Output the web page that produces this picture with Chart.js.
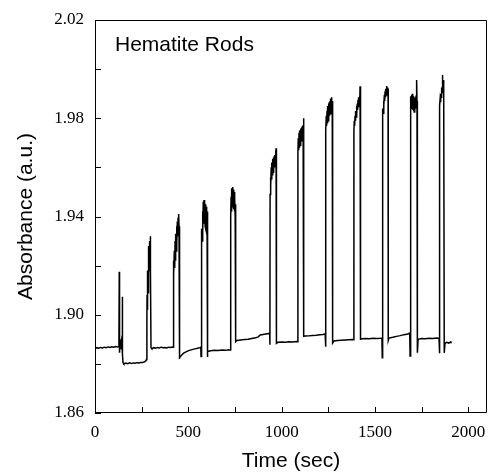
<!DOCTYPE html>
<html>
<head>
<meta charset="utf-8">
<script src="https://cdn.jsdelivr.net/npm/chart.js@4"></script>
<style>
  body { margin: 0; background: #fff; }
  canvas { display: block; }
</style>
</head>
<body>
<canvas id="chart" width="488" height="474"></canvas>
<script>
// time axis (sec) and absorbance (a.u.), one line per segment of the trace
const timeSec = [
  0, 10, 20, 30, 40, 50, 60, 70, 80, 90, 100, 110, 120, 128,
  130, 131, 132, 134, 138, 142, 145, 146, 148, 150,
  155, 165, 175, 185, 195, 205, 215, 225, 235, 245, 255, 265, 272, 276,
  278, 279, 280, 281, 282, 283, 284, 285, 286, 287, 288, 289, 290, 291, 292, 293, 294, 295, 296, 297, 298,
  300, 305, 315, 325, 335, 345, 355, 365, 375, 385, 395, 405, 415, 418,
  419, 421, 423, 425, 427, 429, 431, 433, 435, 437, 439, 441, 443, 445, 447, 449, 450,
  451, 455, 465, 475, 490, 505, 520, 535, 550, 562, 567,
  568, 570, 572, 574, 576, 578, 580, 582, 584, 586, 588, 590, 592, 594, 596, 598, 600,
  601, 605, 620, 640, 660, 680, 700, 715, 724,
  727, 729, 731, 733, 735, 737, 739, 741, 743, 745, 747, 749, 751, 753,
  754, 760, 780, 800, 820, 840, 860, 875, 885, 900, 915, 930, 936,
  937, 938, 940, 942, 944, 946, 948, 950, 952, 954, 956, 958, 960, 962, 964, 966, 968, 970, 971,
  973, 980, 1000, 1020, 1040, 1060, 1080, 1085,
  1087, 1089, 1091, 1093, 1095, 1097, 1099, 1101, 1103, 1105, 1107, 1109, 1111, 1113, 1115, 1117, 1118,
  1119, 1125, 1145, 1165, 1185, 1205, 1220, 1233,
  1235, 1237, 1239, 1241, 1243, 1245, 1247, 1249, 1251, 1253, 1255, 1257, 1259, 1261, 1263, 1265, 1267, 1269, 1271,
  1273, 1280, 1300, 1320, 1340, 1360, 1380, 1385,
  1387, 1389, 1391, 1393, 1395, 1397, 1399, 1401, 1403, 1405, 1407, 1409, 1411, 1413, 1415, 1417, 1419, 1420, 1422,
  1423, 1430, 1450, 1470, 1490, 1510, 1530, 1537,
  1539, 1540, 1542, 1544, 1546, 1548, 1550, 1552, 1554, 1556, 1558, 1560, 1562, 1564, 1566, 1568, 1570,
  1571, 1575, 1595, 1615, 1635, 1655, 1675, 1686,
  1688, 1690, 1692, 1694, 1696, 1698, 1700, 1702, 1704, 1706, 1708, 1710, 1712, 1714, 1716, 1718, 1720, 1723, 1725,
  1727, 1731, 1750, 1770, 1790, 1810, 1830, 1843,
  1845, 1847, 1849, 1851, 1853, 1855, 1857, 1859, 1861, 1863, 1865, 1867, 1869,
  1871, 1875, 1885, 1895, 1905, 1911
];

const absorbance = [
  1.8862, 1.8866, 1.8864, 1.8867, 1.8865, 1.8868, 1.8866, 1.8869, 1.8867, 1.8870, 1.8868, 1.8871, 1.8869, 1.8870,
  1.9175, 1.8860, 1.8845, 1.8900, 1.8860, 1.8890, 1.8870, 1.9073, 1.8840, 1.8805,
  1.8800, 1.8803, 1.8801, 1.8804, 1.8802, 1.8804, 1.8803, 1.8805, 1.8804, 1.8806, 1.8806, 1.8808, 1.8812, 1.8818,
  1.8990, 1.9080, 1.9020, 1.9130, 1.9050, 1.9180, 1.9090, 1.9230, 1.9120, 1.9260, 1.9150, 1.9280, 1.9180, 1.9250, 1.9200, 1.9300, 1.9210, 1.9240, 1.9320, 1.9200, 1.9180,
  1.8866, 1.8862, 1.8866, 1.8864, 1.8867, 1.8865, 1.8868, 1.8866, 1.8867, 1.8865, 1.8868, 1.8867, 1.8869, 1.8868,
  1.9140, 1.9220, 1.9160, 1.9260, 1.9190, 1.9300, 1.9220, 1.9330, 1.9260, 1.9360, 1.9290, 1.9380, 1.9320, 1.9395, 1.9340, 1.9410, 1.9360,
  1.8820, 1.8826, 1.8836, 1.8844, 1.8850, 1.8855, 1.8858, 1.8861, 1.8864, 1.8866, 1.8868,
  1.8830, 1.9270, 1.9350, 1.9300, 1.9420, 1.9340, 1.9460, 1.9370, 1.9467, 1.9380, 1.9460, 1.9360, 1.9450, 1.9350, 1.9440, 1.9345, 1.9420,
  1.8828, 1.8850, 1.8853, 1.8855, 1.8854, 1.8856, 1.8855, 1.8857, 1.8856,
  1.9400, 1.9480, 1.9420, 1.9515, 1.9440, 1.9520, 1.9450, 1.9510, 1.9430, 1.9500, 1.9420, 1.9480, 1.9400, 1.9450,
  1.8890, 1.8895, 1.8897, 1.8899, 1.8900, 1.8903, 1.8906, 1.8910, 1.8918, 1.8920, 1.8922, 1.8924, 1.8923,
  1.8878, 1.9490, 1.9560, 1.9520, 1.9600, 1.9550, 1.9620, 1.9570, 1.9635, 1.9580, 1.9640, 1.9590, 1.9645, 1.9600, 1.9650, 1.9610, 1.9660, 1.9678, 1.9630,
  1.8884, 1.8888, 1.8889, 1.8888, 1.8890, 1.8889, 1.8891, 1.8890,
  1.9660, 1.9720, 1.9670, 1.9740, 1.9680, 1.9750, 1.9690, 1.9755, 1.9700, 1.9760, 1.9705, 1.9765, 1.9710, 1.9770, 1.9720, 1.9800, 1.9740,
  1.8912, 1.8913, 1.8914, 1.8916, 1.8917, 1.8919, 1.8920, 1.8922,
  1.8870, 1.9750, 1.9810, 1.9770, 1.9830, 1.9780, 1.9850, 1.9790, 1.9860, 1.9800, 1.9865, 1.9810, 1.9870, 1.9815, 1.9880, 1.9820, 1.9885, 1.9825, 1.9870,
  1.8885, 1.8893, 1.8895, 1.8896, 1.8897, 1.8898, 1.8899, 1.8898,
  1.9750, 1.9790, 1.9770, 1.9810, 1.9790, 1.9830, 1.9805, 1.9850, 1.9820, 1.9860, 1.9835, 1.9875, 1.9845, 1.9885, 1.9855, 1.9890, 1.9860, 1.9930, 1.9880,
  1.8900, 1.8902, 1.8903, 1.8902, 1.8904, 1.8903, 1.8904, 1.8905,
  1.8825, 1.9800, 1.9840, 1.9820, 1.9870, 1.9850, 1.9895, 1.9870, 1.9910, 1.9885, 1.9920, 1.9895, 1.9931, 1.9900, 1.9925, 1.9905, 1.9920,
  1.8895, 1.8905, 1.8908, 1.8912, 1.8915, 1.8919, 1.8922, 1.8925,
  1.8832, 1.9830, 1.9890, 1.9840, 1.9895, 1.9845, 1.9900, 1.9835, 1.9890, 1.9830, 1.9885, 1.9825, 1.9880, 1.9830, 1.9885, 1.9840, 1.9890, 1.9956, 1.9870,
  1.8845, 1.8900, 1.8903, 1.8902, 1.8904, 1.8903, 1.8905, 1.8904,
  1.8843, 1.9850, 1.9880, 1.9865, 1.9900, 1.9885, 1.9925, 1.9905, 1.9976, 1.9920, 1.9956, 1.9925, 1.9945,
  1.8845, 1.8884, 1.8888, 1.8884, 1.8889, 1.8886
];

// tick marks (every one) and the ones that carry a label
const xTicks = [0, 250, 500, 750, 1000, 1250, 1500, 1750, 2000];
const xLabelTicks = [0, 500, 1000, 1500, 2000];
const yTicks = [1.86, 1.88, 1.90, 1.92, 1.94, 1.96, 1.98, 2.00, 2.02];
const yLabelTicks = [1.86, 1.90, 1.94, 1.98, 2.02];
const chartTitle = 'Hematite Rods';

const serif = '"Liberation Serif", "Times New Roman", serif';
const sans = '"Liberation Sans", Arial, sans-serif';

// box round the plot, inward tick marks and the label inside the plot
const framePlugin = {
  id: 'frame',
  afterDatasetsDraw(chart) {
    const { ctx, chartArea: a, scales } = chart;
    ctx.save();
    ctx.strokeStyle = '#000';
    ctx.lineWidth = 1;
    ctx.beginPath();
    ctx.rect(a.left + 0.5, a.top + 0.5, a.right - a.left - 1, a.bottom - a.top - 1);
    ctx.stroke();

    const len = 6;
    ctx.beginPath();
    scales.x.ticks.forEach(t => {
      const px = Math.round(scales.x.getPixelForValue(t.value)) + 0.5;
      ctx.moveTo(px, a.bottom);
      ctx.lineTo(px, a.bottom - len);
    });
    scales.y.ticks.forEach(t => {
      const py = Math.round(scales.y.getPixelForValue(t.value)) + 0.5;
      ctx.moveTo(a.left, py);
      ctx.lineTo(a.left + len, py);
    });
    ctx.stroke();

    ctx.fillStyle = '#000';
    ctx.font = '21px ' + sans;
    ctx.textBaseline = 'middle';
    ctx.textAlign = 'left';
    ctx.fillText(chartTitle, a.left + 20, a.top + 25);
    ctx.restore();
  }
};

new Chart(document.getElementById('chart'), {
  type: 'line',
  data: {
    datasets: [{
      data: timeSec.map((t, i) => ({ x: t, y: absorbance[i] })),
      borderColor: '#000',
      borderWidth: 1.5,
      pointRadius: 0,
      tension: 0,
      fill: false
    }]
  },
  options: {
    responsive: false,
    animation: false,
    devicePixelRatio: 1,
    layout: { padding: { top: 20, right: 1, left: 0, bottom: 0 } },
    plugins: {
      legend: { display: false },
      tooltip: { enabled: false }
    },
    scales: {
      x: {
        type: 'linear',
        min: 0,
        max: 2100,
        grid: { display: false, drawTicks: false },
        border: { display: false },
        afterBuildTicks: s => { s.ticks = xTicks.map(v => ({ value: v })); },
        ticks: {
          autoSkip: false,
          maxRotation: 0,
          padding: 9,
          color: '#000',
          font: { family: serif, size: 17 },
          callback: v => xLabelTicks.includes(v) ? String(v) : ''
        },
        title: {
          display: true,
          text: 'Time (sec)',
          color: '#000',
          font: { family: sans, size: 21 },
          padding: { top: 0, bottom: 0 }
        },
        afterFit: s => {
          s.height = 61;
          s.paddingLeft = 0;
          s.paddingRight = 0;
        }
      },
      y: {
        min: 1.86,
        max: 2.02,
        grid: { display: false, drawTicks: false },
        border: { display: false },
        afterBuildTicks: s => { s.ticks = yTicks.map(v => ({ value: v })); },
        ticks: {
          autoSkip: false,
          padding: 11,
          color: '#000',
          font: { family: serif, size: 17 },
          callback: v => yLabelTicks.some(l => Math.abs(l - v) < 1e-6) ? v.toFixed(2) : ''
        },
        title: {
          display: true,
          text: 'Absorbance (a.u.)',
          color: '#000',
          font: { family: sans, size: 21 },
          padding: { top: 14, bottom: 0 }
        },
        afterFit: s => {
          s.width = 95;
          s.paddingTop = 0;
          s.paddingBottom = 0;
        }
      }
    }
  },
  plugins: [framePlugin]
});
</script>
</body>
</html>
